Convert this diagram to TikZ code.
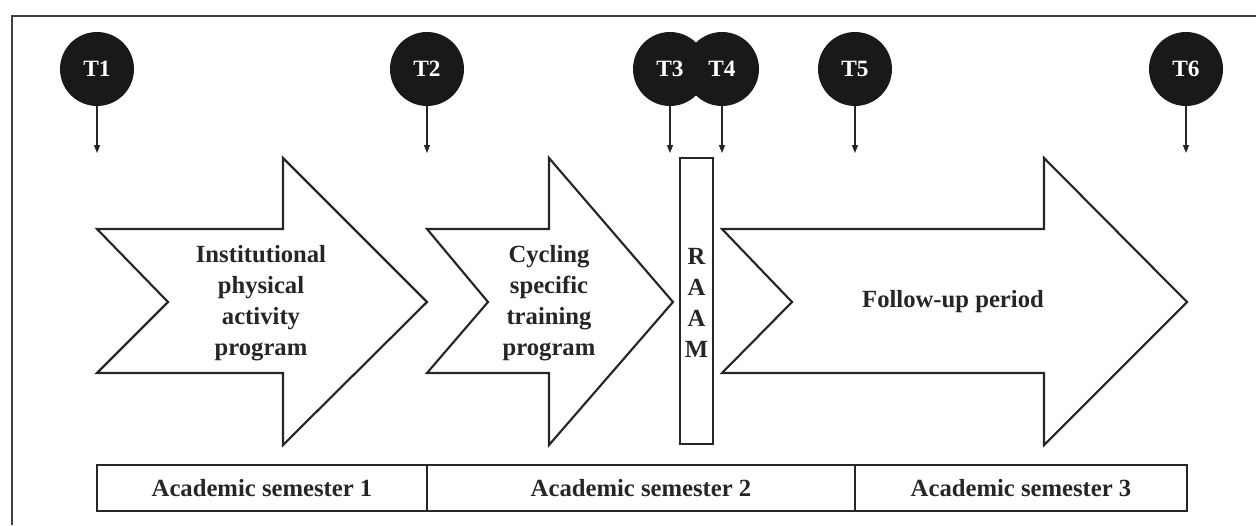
\documentclass[tikz,border=0pt]{standalone}
\usepackage{fontspec}
\setmainfont{Liberation Serif}
\usetikzlibrary{arrows.meta}
\begin{document}
\begin{tikzpicture}[x=0.75pt,y=-0.75pt,
  tcirc/.style={circle,fill=black!90,minimum size=55.5pt,inner sep=0pt,text=white,font=\fontsize{17.5}{20}\selectfont\bfseries},
  tick/.style={line width=0.9pt,draw=black!85,-{Triangle[length=6pt,width=4.5pt]}},
  bigarrow/.style={draw=black!85,line width=1.6pt,fill=white,line join=miter},
  lbl/.style={font=\fontsize{18.5}{23.25}\selectfont\bfseries,align=center,text=black!85,inner sep=0pt},
  cell/.style={draw=black!85,line width=1.6pt,minimum height=34.5pt,inner sep=0pt,font=\fontsize{18.5}{22}\selectfont\bfseries,text=black!85}]
\useasboundingbox (0,0) rectangle (1256,525);
% frame
\draw[line width=1.3pt,draw=black!75] (12,525) -- (12,16) -- (1256,16);
% big arrows
\draw[bigarrow] (97,229) -- (283,229) -- (283,158) -- (427,302) -- (283,445) -- (283,373) -- (97,373) -- (168,302) -- cycle;
\draw[bigarrow] (427,229) -- (549,229) -- (549,158) -- (673,302) -- (549,445) -- (549,373) -- (427,373) -- (488,302) -- cycle;
\draw[bigarrow] (722,229) -- (1044,229) -- (1044,158) -- (1187,302) -- (1044,445) -- (1044,373) -- (722,373) -- (792,302) -- cycle;
\node[lbl] (lab1) at (261,303) {Institutional\\physical\\activity\\program};
\node[lbl] (lab2) at (549,303) {Cycling\\specific\\training\\program};
\node[lbl] (lab3) at (953,302) {Follow-up period};
% RAAM box
\node[draw=black!85,line width=1.6pt,fill=white,minimum width=24.75pt,minimum height=214.5pt,inner sep=0pt] (raam) at (696.5,301) {};
\node[lbl] (raamtxt) at (696.5,303) {R\\A\\A\\M};
% time points
\node[tcirc] (t1) at (97,69) {T1};
\node[tcirc] (t2) at (427,69) {T2};
\node[tcirc] (t3) at (670,69) {T3};
\node[tcirc] (t4) at (722,69) {T4};
\node[tcirc] (t5) at (855,69) {T5};
\node[tcirc] (t6) at (1186,69) {T6};
\coordinate (e1) at (97,153);
\coordinate (e2) at (427,153);
\coordinate (e3) at (670,153);
\coordinate (e4) at (722,153);
\coordinate (e5) at (855,153);
\coordinate (e6) at (1186,153);
\foreach \i in {1,...,6}{\draw[tick] (t\i.south) -- (e\i);}
% semesters
\node[cell,minimum width=247.5pt] (s1) at (262,488) {Academic semester 1};
\node[cell,minimum width=321pt] (s2) at (641,488) {Academic semester 2};
\node[cell,minimum width=249pt] (s3) at (1021,488) {Academic semester 3};
\end{tikzpicture}
\end{document}
